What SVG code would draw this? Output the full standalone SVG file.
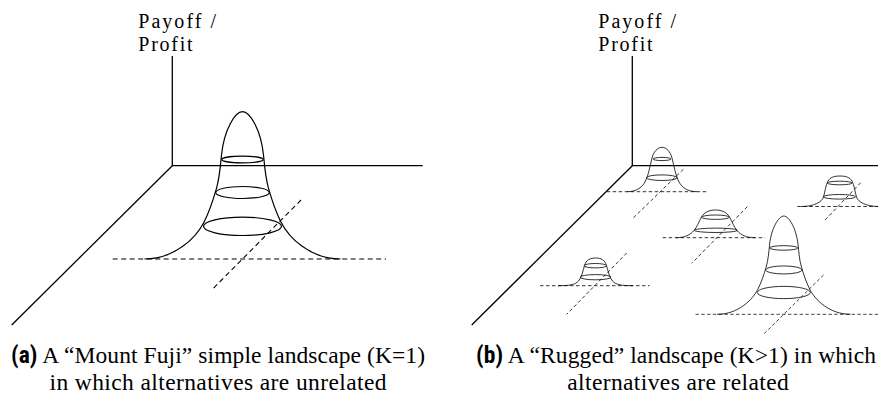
<svg xmlns="http://www.w3.org/2000/svg" xmlns:xlink="http://www.w3.org/1999/xlink" width="878" height="403" viewBox="0 0 878 403">
<style>
.ax{fill:none;stroke:#000;stroke-width:1.3}
.m{fill:none;stroke:#000;stroke-width:1.2}
.ms{fill:none;stroke:#000;stroke-width:0.8}
.d{fill:none;stroke:#000;stroke-width:1.1;stroke-dasharray:5 3.5}
.ds{fill:none;stroke:#000;stroke-width:0.8;stroke-dasharray:3.5 2.5}
.lab{font-family:"Liberation Serif","DejaVu Serif",serif;font-size:20px;fill:#000}
.cap{font-family:"Liberation Serif","DejaVu Serif",serif;font-size:23.5px;fill:#000}
.sub{font-family:"Liberation Sans Narrow","Roboto Condensed","Liberation Sans",sans-serif;font-weight:bold}
</style>
<defs>
<g id="fuji">
<path class="m" d="M144.5,259 C175,259 196.2,237.7 204.2,221.7 C209.5,211.1 213.4,199.1 216.5,188.3 C219.6,177.5 220.4,166.2 221.5,155 C224,130 235,111.7 242.5,111.7 C250,111.7 261,130 263.5,155 C264.6,166.2 265.4,177.5 268.5,188.3 C271.6,199.1 275.5,211.1 280.8,221.7 C288.8,237.7 310,259 340.5,259"/>
<ellipse class="m" cx="242.5" cy="159.5" rx="20.6" ry="3.4"/>
<ellipse class="m" cx="242.5" cy="192.5" rx="26.8" ry="6"/>
<ellipse class="m" cx="242.5" cy="226.3" rx="39" ry="9.2"/>
<line class="d" x1="112.7" y1="259" x2="386" y2="259"/>
<line class="d" x1="301" y1="200" x2="211.7" y2="290"/>
</g>
</defs>
<rect width="878" height="403" fill="#fff"/>

<g id="connectors">
<g id="axes-a">
<polyline class="ax" points="172.3,56 172.3,165.7 422.7,165.7"/>
<line class="ax" x1="172.3" y1="165.7" x2="11.7" y2="325"/>
</g>
<g id="axes-b">
<polyline class="ax" points="632.3,56 632.3,165.7 878,165.7"/>
<line class="ax" x1="632.3" y1="165.7" x2="471.7" y2="325"/>
</g>
</g>

<g id="label-a">
<text class="lab" x="138.3" y="28.3" textLength="77.7">Payoff /</text>
<text class="lab" x="138.3" y="50.7" textLength="54.3">Profit</text>
</g>
<g id="label-b">
<text class="lab" x="598.3" y="28.3" textLength="77.7">Payoff /</text>
<text class="lab" x="598.3" y="50.7" textLength="54.3">Profit</text>
</g>

<g id="mountain-a">
<use xlink:href="#fuji" href="#fuji"/>
</g>

<g id="peak-b1">
<path class="ms" d="M627,191.7 C637,191.7 642.5,187 645.5,181 C648.5,175 650,166 652,158 C653.5,152 657.5,147.3 662,147.3 C666.5,147.3 670.5,152 672,158 C674,166 675.5,175 678.5,181 C681.5,187 687,191.7 697,191.7"/>
<ellipse class="ms" cx="662" cy="159" rx="9" ry="1.6"/>
<ellipse class="ms" cx="661.8" cy="177.7" rx="15.3" ry="2.8"/>
<line class="ds" x1="606.7" y1="191.7" x2="708.3" y2="191.7"/>
<line class="ds" x1="683.3" y1="169.3" x2="632.7" y2="218.5"/>
</g>

<g id="peak-b2">
<path class="ms" d="M801,206.5 C814,206.5 822,202 823.5,197 C825,192 825.8,184.9 828,181 C830,177.5 834,176 840,176 C846,176 850,177.5 852,181 C854.2,184.9 855,192 856.5,197 C858,202 866,206.5 879,206.5"/>
<ellipse class="ms" cx="839.7" cy="183" rx="12.4" ry="1.8"/>
<ellipse class="ms" cx="839.5" cy="196.8" rx="16" ry="2.3"/>
<line class="ds" x1="797.3" y1="206.5" x2="878" y2="206.5"/>
<line class="ds" x1="860.7" y1="182.7" x2="825" y2="220"/>
</g>

<g id="peak-b3">
<path class="ms" d="M676,237.7 C685,237.7 690,235 694,230.5 C697,227 699,221.5 701.5,217 C704,212.5 709,210 715.5,210 C722,210 727,212.5 729.5,217 C732,221.5 734,227 737,230.5 C741,235 746,237.7 755,237.7"/>
<ellipse class="ms" cx="715.5" cy="217.2" rx="13.8" ry="2.2"/>
<ellipse class="ms" cx="715.8" cy="230.3" rx="21.5" ry="2.2"/>
<line class="ds" x1="662.7" y1="237.7" x2="765" y2="237.7"/>
<line class="ds" x1="747.3" y1="206.7" x2="691.7" y2="263.3"/>
</g>

<g id="peak-b4">
<path class="ms" d="M558,285.7 C569,285.7 575,285 578.5,281 C581.5,277.5 583,271 584.5,265.5 C586,260 590,258 595.5,258 C601,258 605,260 606.5,265.5 C608,271 609.5,277.5 612.5,281 C616,285 622,285.7 633,285.7"/>
<ellipse class="ms" cx="595.3" cy="265.7" rx="11.2" ry="2.2"/>
<ellipse class="ms" cx="595.5" cy="277.2" rx="15.4" ry="2.6"/>
<line class="ds" x1="540" y1="285.7" x2="649.5" y2="285.7"/>
<line class="ds" x1="626.7" y1="253" x2="566.7" y2="314.3"/>
</g>

<g id="peak-b5">
<use xlink:href="#fuji" href="#fuji" transform="translate(783.8,314.3) scale(0.68,0.667) translate(-242.5,-259)"/>
</g>

<g id="caption-a">
<text class="cap" x="11" y="363" textLength="414"><tspan class="sub">(a)</tspan> A “Mount Fuji” simple landscape (K=1)</text>
<text class="cap" x="218" y="390" text-anchor="middle" textLength="337">in which alternatives are unrelated</text>
</g>
<g id="caption-b">
<text class="cap" x="476" y="363" textLength="400"><tspan class="sub">(b)</tspan> A “Rugged” landscape (K&gt;1) in which</text>
<text class="cap" x="678" y="390" text-anchor="middle" textLength="221.5">alternatives are related</text>
</g>
</svg>
